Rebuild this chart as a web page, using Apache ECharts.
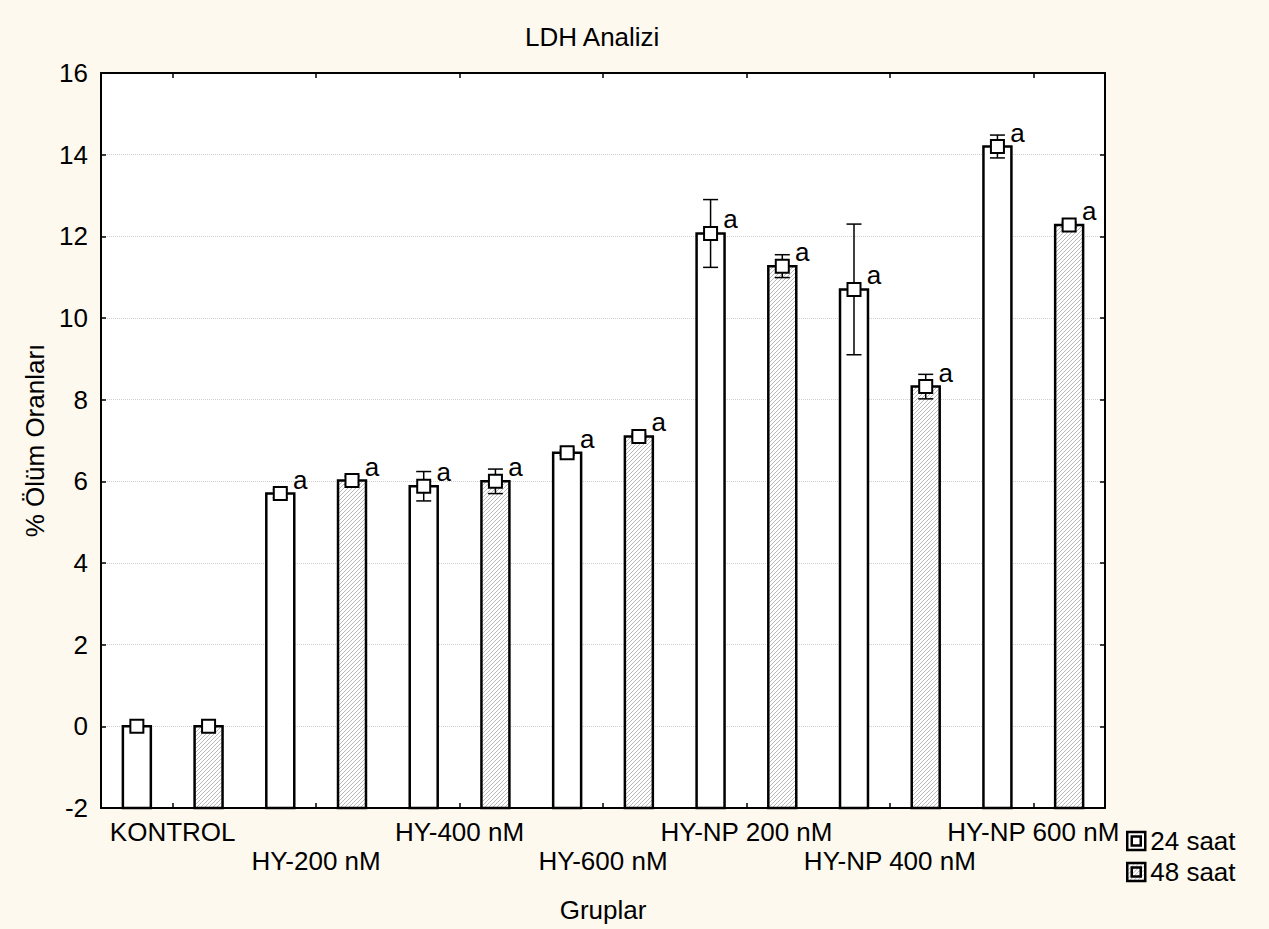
<!DOCTYPE html>
<html>
<head>
<meta charset="utf-8">
<title>LDH Analizi</title>
<script src="https://cdn.jsdelivr.net/npm/echarts@6/dist/echarts.min.js"></script>
<style>
  html, body { margin: 0; padding: 0; background: #fef9ee; }
  #chart { width: 1269px; height: 929px; }
</style>
</head>
<body>
<div id="chart"></div>
<script>
// groups on the x axis
const groups = ['KONTROL', 'HY-200 nM', 'HY-400 nM', 'HY-600 nM', 'HY-NP 200 nM', 'HY-NP 400 nM', 'HY-NP 600 nM']

// % death rate, 24 h
const mean24 = [0, 5.7, 5.88, 6.7, 12.07, 10.7, 14.2]
const err24 = [0, 0.1, 0.36, 0.06, 0.83, 1.6, 0.28]
const sig24 = ['', 'a', 'a', 'a', 'a', 'a', 'a']

// % death rate, 48 h
const mean48 = [0, 6.02, 6.0, 7.1, 11.27, 8.32, 12.28]
const err48 = [0, 0.1, 0.3, 0.06, 0.28, 0.3, 0.06]
const sig48 = ['', 'a', 'a', 'a', 'a', 'a', 'a']

const yTicks = { min: -2, max: 16, interval: 2 }
const font = 'Arial, "Liberation Sans", sans-serif'
const fs = 26

// hatch for the 48 saat bars
function hatch() {
  const c = document.createElement('canvas')
  c.width = 4
  c.height = 4
  const ctx = c.getContext('2d')
  ctx.fillStyle = '#ffffff'
  ctx.fillRect(0, 0, 4, 4)
  ctx.strokeStyle = '#b8b8b8'
  ctx.lineWidth = 1
  ctx.beginPath()
  ctx.moveTo(-1, 5)
  ctx.lineTo(5, -1)
  ctx.stroke()
  return { image: c.toDataURL(), repeat: 'repeat', imageWidth: 4, imageHeight: 4 }
}
const hatchFill = hatch()

// one slot per bar, two per group
const slots = []
groups.forEach((g) => { slots.push(g + ' 24'); slots.push(g + ' 48') })

function makeRender(fill, sig) {
  return (params, api) => {
    const x = api.value(0)
    const v = api.value(1)
    const e = api.value(2)
    const base = api.coord([x, yTicks.min])
    const top = api.coord([x, v])
    const w = api.size([1, 0])[0] * 0.39
    const children = [{
      type: 'rect',
      shape: { x: top[0] - w / 2, y: top[1], width: w, height: base[1] - top[1] },
      style: { fill: fill, stroke: '#000', lineWidth: 2.5 },
    }]
    if (e > 0) {
      const hi = api.coord([x, v + e])
      const lo = api.coord([x, v - e])
      children.push(
        { type: 'line', shape: { x1: top[0], y1: hi[1], x2: top[0], y2: lo[1] }, style: { stroke: '#000', lineWidth: 1.5 } },
        { type: 'line', shape: { x1: top[0] - 7.5, y1: hi[1], x2: top[0] + 7.5, y2: hi[1] }, style: { stroke: '#000', lineWidth: 1.5 } },
        { type: 'line', shape: { x1: top[0] - 7.5, y1: lo[1], x2: top[0] + 7.5, y2: lo[1] }, style: { stroke: '#000', lineWidth: 1.5 } },
      )
    }
    children.push({
      type: 'rect',
      shape: { x: top[0] - 6.5, y: top[1] - 6.5, width: 13, height: 13 },
      style: { fill: '#fff', stroke: '#000', lineWidth: 2 },
    })
    const s = sig[params.dataIndex]
    if (s) {
      children.push({
        type: 'text',
        x: top[0] + 20,
        y: top[1] - 14,
        style: { text: s, font: fs + 'px ' + font, fill: '#000', align: 'center', verticalAlign: 'middle' },
      })
    }
    return { type: 'group', children }
  }
}

const chart = echarts.init(document.getElementById('chart'), null, { renderer: 'svg' })

const axisLine = { show: true, onZero: false, lineStyle: { color: '#000', width: 2 } }
const tick = { show: true, inside: true, length: 5, lineStyle: { color: '#000', width: 1.5 } }

const legendIcon = 'path://M0,0H20V20H0Z M5,5H15V15H5Z'

chart.setOption({
  backgroundColor: '#fef9ee',
  textStyle: { fontFamily: font },
  animation: false,
  title: {
    text: 'LDH Analizi',
    left: 520,
    top: 19,
    textStyle: { fontSize: fs, fontWeight: 'normal', color: '#000', fontFamily: font },
  },
  legend: {
    orient: 'vertical',
    left: 1126,
    top: 828,
    padding: 0,
    itemWidth: 18,
    itemHeight: 18,
    itemGap: 5,
    textStyle: { fontSize: fs, color: '#000', fontFamily: font },
    data: [
      { name: '24 saat', icon: legendIcon, itemStyle: { color: '#fff', borderColor: '#000', borderWidth: 2.5 } },
      { name: '48 saat', icon: legendIcon, itemStyle: { color: hatchFill, borderColor: '#000', borderWidth: 2.5 } },
    ],
  },
  grid: {
    left: 101,
    right: 164,
    top: 73,
    bottom: 121,
    show: true,
    backgroundColor: '#fff',
    borderWidth: 0,
  },
  xAxis: [
    { type: 'category', data: slots, show: false },
    {
      type: 'category',
      data: groups,
      position: 'bottom',
      axisLine,
      axisTick: { ...tick, alignWithLabel: true },
      axisLabel: {
        interval: 0,
        fontSize: fs,
        lineHeight: 29,
        color: '#000',
        margin: 9,
        formatter: (v, i) => (i % 2 ? '\n' + v : v),
      },
      name: 'Gruplar',
      nameLocation: 'middle',
      nameGap: 89,
      nameTextStyle: { fontSize: fs, color: '#000' },
    },
    {
      type: 'category',
      data: groups,
      position: 'top',
      axisLine,
      axisTick: { ...tick, alignWithLabel: true },
      axisLabel: { show: false },
    },
  ],
  yAxis: [
    {
      type: 'value',
      ...yTicks,
      axisLine,
      axisTick: tick,
      axisLabel: { fontSize: fs, color: '#000', margin: 13 },
      splitLine: { show: true, lineStyle: { color: '#cfcfcf', type: 'dotted', width: 1 } },
      name: '% Ölüm Oranları',
      nameLocation: 'middle',
      nameGap: 50,
      nameTextStyle: { fontSize: fs, color: '#000' },
    },
    {
      type: 'value',
      ...yTicks,
      position: 'right',
      axisLine,
      axisTick: tick,
      axisLabel: { show: false },
      splitLine: { show: false },
    },
  ],
  series: [
    {
      name: '24 saat',
      type: 'custom',
      xAxisIndex: 0,
      yAxisIndex: 0,
      itemStyle: { color: '#fff', borderColor: '#000' },
      encode: { x: 0, y: 1 },
      renderItem: makeRender('#fff', sig24),
      data: groups.map((g, i) => [2 * i, mean24[i], err24[i]]),
    },
    {
      name: '48 saat',
      type: 'custom',
      xAxisIndex: 0,
      yAxisIndex: 0,
      itemStyle: { color: hatchFill, borderColor: '#000' },
      encode: { x: 0, y: 1 },
      renderItem: makeRender(hatchFill, sig48),
      data: groups.map((g, i) => [2 * i + 1, mean48[i], err48[i]]),
    },
  ],
})
</script>
</body>
</html>
